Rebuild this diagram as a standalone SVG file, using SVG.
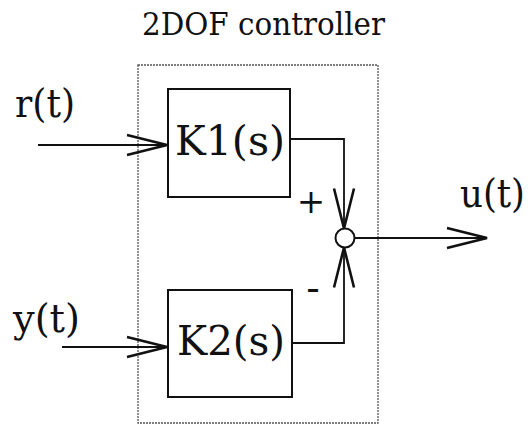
<svg xmlns="http://www.w3.org/2000/svg" width="532" height="426" viewBox="0 0 532 426">
<style>
text{font-family:'DejaVu Serif','Liberation Serif',serif;fill:#111}
.blk{fill:#fff;stroke:#111;stroke-width:2}
.wire{fill:none;stroke:#111;stroke-width:1.8}
.frame{fill:none;stroke:#555;stroke-width:1.3;stroke-dasharray:2 1}
</style>
<defs>
<marker id="open" markerUnits="userSpaceOnUse" viewBox="-2 -2 44 24" refX="40" refY="10" markerWidth="44" markerHeight="24" orient="auto" overflow="visible">
<path d="M0,0 L40,10 L0,20" fill="none" stroke="#111" stroke-width="2.6" stroke-linejoin="miter"/>
</marker>
</defs>
<rect width="532" height="426" fill="#fff"/>
<g id="controller">
<rect class="frame" x="138" y="65" width="240" height="358"/>
<text x="142" y="35" font-size="31" textLength="243" lengthAdjust="spacingAndGlyphs">2DOF controller</text>
</g>
<g id="connectors">
<line class="wire" x1="38" y1="145" x2="167" y2="145" marker-end="url(#open)"/>
<line class="wire" x1="62" y1="347" x2="167" y2="347" marker-end="url(#open)"/>
<path class="wire" d="M290,139 H344 V228.5" marker-end="url(#open)"/>
<path class="wire" d="M292,343 H344 V247.5" marker-end="url(#open)"/>
<line class="wire" x1="354.5" y1="238" x2="487" y2="238" marker-end="url(#open)"/>
</g>
<g id="K1">
<rect class="blk" x="168" y="89" width="122" height="108"/>
<text x="230" y="155" font-size="41" text-anchor="middle" textLength="110" lengthAdjust="spacingAndGlyphs">K1(s)</text>
</g>
<g id="K2">
<rect class="blk" x="168" y="290" width="124" height="107"/>
<text x="231" y="355" font-size="41" text-anchor="middle" textLength="108" lengthAdjust="spacingAndGlyphs">K2(s)</text>
</g>
<g id="sum">
<circle cx="345" cy="238" r="9.5" fill="#fff" stroke="#111" stroke-width="2"/>
<text x="311" y="213" font-size="34" text-anchor="middle">+</text>
<text x="313" y="301" font-size="40" text-anchor="middle">-</text>
</g>
<g id="r">
<text x="15" y="117" font-size="40" textLength="60" lengthAdjust="spacingAndGlyphs">r(t)</text>
</g>
<g id="y">
<text x="13" y="332" font-size="40" textLength="67" lengthAdjust="spacingAndGlyphs">y(t)</text>
</g>
<g id="u">
<text x="460" y="207" font-size="40" textLength="65" lengthAdjust="spacingAndGlyphs">u(t)</text>
</g>
</svg>
